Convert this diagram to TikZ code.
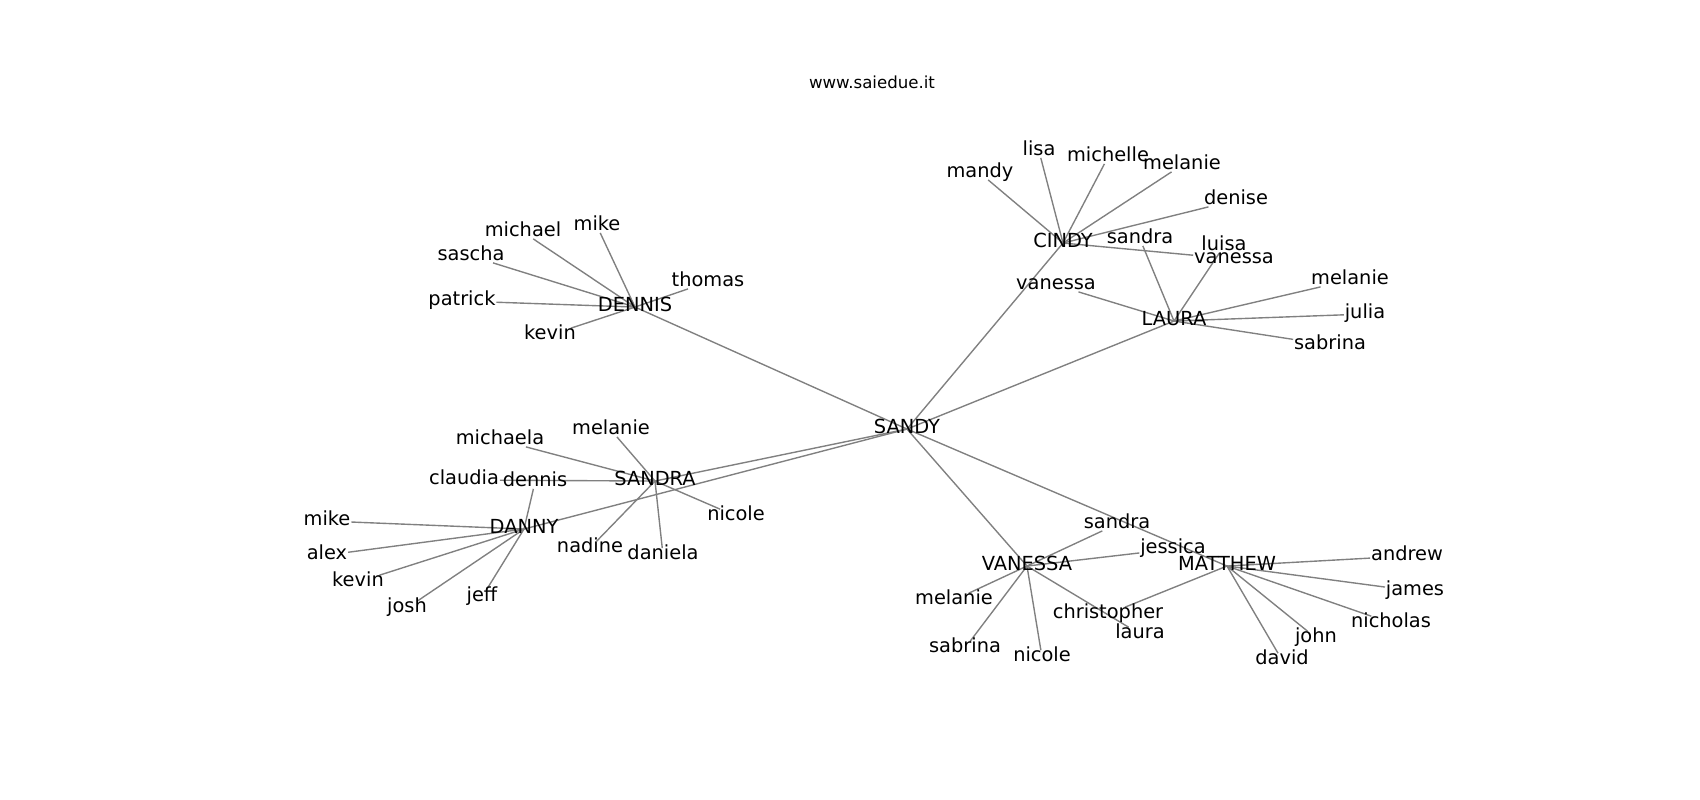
\documentclass[tikz,border=0pt]{standalone}
\usepackage{fontspec}
\setmainfont{DejaVu Sans}
\usetikzlibrary{backgrounds}
\begin{document}
\begin{tikzpicture}[line join=round, x=0.01in, y=-0.01in]
    \tikzset{
        friend/.style={inner sep=0.5pt, text height=0.75em, text depth=0.1em,
            yshift=-2.2pt, font=\fontsize{14}{16}\selectfont},
        hub/.style={friend},
        link/.style={draw=gray, line width=1pt},
    }
    \useasboundingbox (0,0) rectangle (1700,800);
    \node[font=\fontsize{12}{14}\selectfont] (site) at (872,82) {www.saiedue.it};
    \foreach \name/\x/\y in {SANDY/907/426, DENNIS/635/304, SANDRA/655/478,
        DANNY/524/526, CINDY/1063/240, LAURA/1174/318, VANESSA/1027/563,
        MATTHEW/1227/563}{
        \node[hub] (\name) at (\x,\y) {\name};
    }
    \begin{scope}[on background layer]
        \foreach \hub in {DENNIS, SANDRA, DANNY, CINDY, LAURA, VANESSA, MATTHEW}{
            \draw[link] (SANDY.center) -- (\hub.center);
        }
    \end{scope}
    \foreach \hub/\txt/\x/\y in {
        DENNIS/michael/523/229, DENNIS/mike/597/223, DENNIS/sascha/471/253,
        DENNIS/patrick/462/298, DENNIS/kevin/550/332, DENNIS/thomas/708/279,
        SANDRA/michaela/500/437, SANDRA/melanie/611/427, SANDRA/claudia/464/477,
        SANDRA/nicole/736/513, SANDRA/nadine/590/545, SANDRA/daniela/663/552,
        DANNY/dennis/535/479, DANNY/mike/327/518, DANNY/alex/327/552,
        DANNY/kevin/358/579, DANNY/josh/407/605, DANNY/jeff/482/594,
        CINDY/mandy/980/170, CINDY/lisa/1039/148, CINDY/michelle/1108/154,
        CINDY/melanie/1182/162, CINDY/denise/1236/197, CINDY/vanessa/1234/256,
        LAURA/sandra/1140/236, LAURA/luisa/1224/243, LAURA/vanessa/1056/282,
        LAURA/melanie/1350/277, LAURA/julia/1365/311, LAURA/sabrina/1330/342,
        VANESSA/sandra/1117/521, VANESSA/jessica/1173/546, VANESSA/melanie/954/597,
        VANESSA/sabrina/965/645, VANESSA/nicole/1042/654, VANESSA/laura/1140/631,
        MATTHEW/christopher/1108/611, MATTHEW/andrew/1407/553, MATTHEW/james/1415/588,
        MATTHEW/nicholas/1391/620, MATTHEW/john/1316/635, MATTHEW/david/1282/657}{
        \node[friend] (\hub-\txt) at (\x,\y) {\txt};
        \begin{scope}[on background layer]
            \draw[link] (\hub.center) -- (\hub-\txt);
        \end{scope}
    }
\end{tikzpicture}
\end{document}
